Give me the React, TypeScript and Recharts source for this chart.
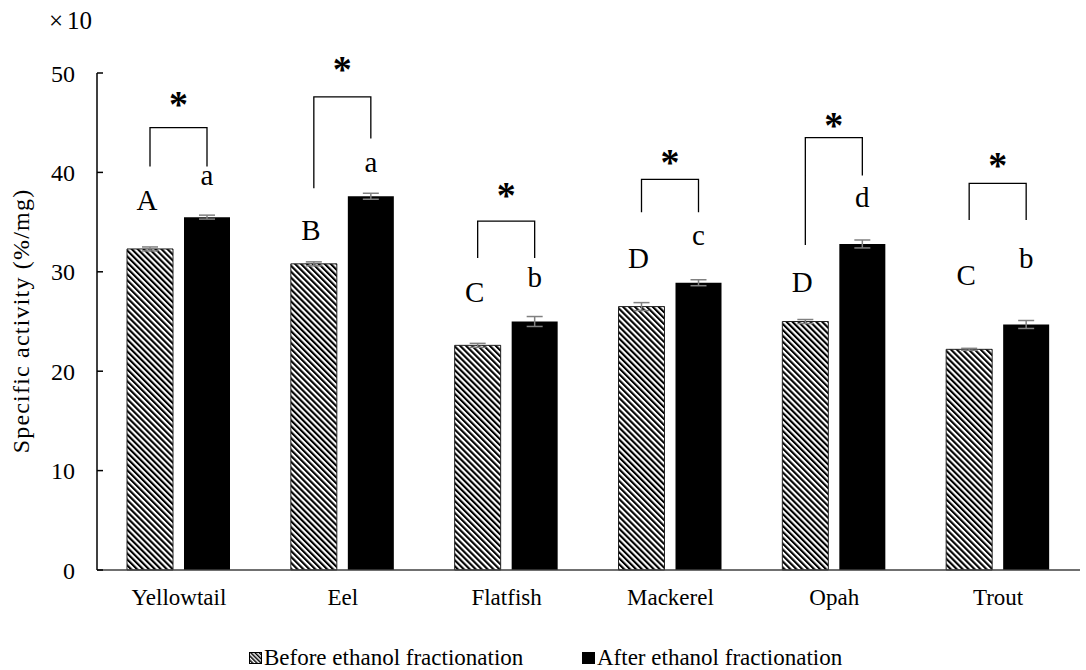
import { BarChart, Bar, XAxis, YAxis, ErrorBar, LabelList } from 'recharts'

// species on the x axis
const categories = ['Yellowtail', 'Eel', 'Flatfish', 'Mackerel', 'Opah', 'Trout']

// specific activity (×10 %/mg), mean and SD
const before = [32.3, 30.8, 22.6, 26.5, 25.0, 22.2]
const after = [35.5, 37.6, 25.0, 28.9, 32.8, 24.7]
const beforeErr = [0.2, 0.2, 0.2, 0.4, 0.2, 0.1]
const afterErr = [0.2, 0.3, 0.5, 0.3, 0.4, 0.4]

// significance groups
const beforeGroups = ['A', 'B', 'C', 'D', 'D', 'C']
const afterGroups = ['a', 'a', 'b', 'c', 'd', 'b']

// annotation levels in axis units
const upperLetterLevel = [36.2, 33.2, 27.0, 30.4, 28.0, 28.7]
const lowerLetterLevel = [38.7, 40.0, 28.5, 32.7, 36.5, 30.4]
const bracketTop = [44.5, 47.6, 35.1, 39.3, 43.5, 38.9]
const leftLegEnd = [40.6, 38.4, 31.4, 36.0, 32.7, 35.2]
const rightLegEnd = [40.6, 43.4, 31.4, 36.0, 39.7, 35.2]
const starLevel = [47.6, 51.1, 38.4, 41.8, 45.5, 41.4]

const yTicks = [0, 10, 20, 30, 40, 50]

const FONT = '"Liberation Serif", "Times New Roman", serif'
const BAR_SIZE = 46
const BAR_GAP = 11

const data = categories.map((name, i) => ({
  name,
  before: before[i],
  after: after[i],
  beforeErr: beforeErr[i],
  afterErr: afterErr[i],
}))

// pixel y for an axis value, derived from the bar's own geometry
const scaleFromBar = (vb: any, value: number) => {
  const base = vb.y + vb.height
  const k = vb.height / value
  return (v: number) => base - v * k
}

const YTick = ({ x, y, payload }: any) => (
  <g>
    <line x1={x + 22} x2={x + 28} y1={y} y2={y} stroke="#000" strokeWidth={1.5} />
    <text x={x} y={y} dy="0.36em" textAnchor="end" style={{ fontFamily: FONT, fontSize: 24 }} fill="#000">
      {payload.value}
    </text>
  </g>
)

const BeforeLetter = (props: any) => {
  const vb = props.viewBox || props
  const i = props.index
  const py = scaleFromBar(vb, before[i])
  return (
    <text x={vb.x + vb.width / 2 - 3} y={py(upperLetterLevel[i])} textAnchor="middle" style={{ fontFamily: FONT, fontSize: 29 }} fill="#000">
      {beforeGroups[i]}
    </text>
  )
}

const AfterAnnotation = (props: any) => {
  const vb = props.viewBox || props
  const i = props.index
  const py = scaleFromBar(vb, after[i])
  const xr = vb.x + vb.width / 2
  const xl = xr - vb.width - BAR_GAP
  const top = py(bracketTop[i])
  return (
    <g>
      <text x={xr} y={py(lowerLetterLevel[i])} textAnchor="middle" style={{ fontFamily: FONT, fontSize: 29 }} fill="#000">
        {afterGroups[i]}
      </text>
      <polyline
        points={`${xl},${py(leftLegEnd[i])} ${xl},${top} ${xr},${top} ${xr},${py(rightLegEnd[i])}`}
        fill="none"
        stroke="#000"
        strokeWidth={1.3}
      />
      <text x={(xl + xr) / 2} y={py(starLevel[i]) + 20} textAnchor="middle" style={{ fontFamily: FONT, fontSize: 38, fontWeight: 'bold' }} fill="#000">
        *
      </text>
    </g>
  )
}

const LegendSwatch = ({ hatched }: { hatched: boolean }) => (
  <svg width={13} height={12} style={{ marginRight: 2 }}>
    <defs>
      <pattern id="hatchSmall" patternUnits="userSpaceOnUse" width="3" height="3" patternTransform="rotate(-45)">
        <rect width="3" height="3" fill="#fff" />
        <rect width="1.5" height="3" fill="#000" />
      </pattern>
    </defs>
    <rect x={0.5} y={0.5} width={12} height={11} fill={hatched ? 'url(#hatchSmall)' : '#000'} stroke="#000" strokeWidth={1} />
  </svg>
)

const legendItem = {
  position: 'absolute' as const,
  top: 645,
  display: 'flex',
  alignItems: 'center',
  whiteSpace: 'nowrap' as const,
  lineHeight: '26px',
}

export default function App() {
  return (
    <div style={{ position: 'absolute', left: 0, top: 0, width: 1086, height: 670, background: '#fff', fontFamily: FONT, color: '#000', fontSize: 23 }}>
      <BarChart
        width={1086}
        height={670}
        data={data}
        margin={{ top: 73, right: 6, bottom: 0, left: 0 }}
        barSize={BAR_SIZE}
        barGap={BAR_GAP}
      >
        <defs>
          <pattern id="hatch" patternUnits="userSpaceOnUse" width="4.2" height="4.2" patternTransform="rotate(-45)">
            <rect width="4.2" height="4.2" fill="#fff" />
            <rect width="2.1" height="4.2" fill="#000" />
          </pattern>
        </defs>
        <text x={49} y={29} style={{ fontFamily: FONT, fontSize: 25 }} fill="#000">
          ×<tspan dx={4}>10</tspan>
        </text>
        <text
          x={0}
          y={0}
          transform="translate(29, 321) rotate(-90)"
          textAnchor="middle"
          style={{ fontFamily: FONT, fontSize: 24, letterSpacing: 1.2 }}
          fill="#000"
        >
          Specific activity (%/mg)
        </text>
        <XAxis
          dataKey="name"
          height={100}
          tickLine={false}
          tickSize={0}
          tickMargin={19}
          axisLine={{ stroke: '#404040', strokeWidth: 1.5 }}
          tick={{ fontFamily: FONT, fontSize: 23, fill: '#000' }}
        />
        <YAxis
          width={97}
          domain={[0, 50]}
          ticks={yTicks}
          interval={0}
          tickLine={false}
          tickSize={0}
          tickMargin={22}
          axisLine={{ stroke: '#000', strokeWidth: 1.5 }}
          tick={<YTick />}
        />
        <Bar dataKey="before" fill="url(#hatch)" stroke="#222" strokeWidth={1} isAnimationActive={false}>
          <ErrorBar dataKey="beforeErr" width={8} stroke="#808080" strokeWidth={1.5} direction="y" />
          <LabelList dataKey="before" content={BeforeLetter} />
        </Bar>
        <Bar dataKey="after" fill="#000" isAnimationActive={false}>
          <ErrorBar dataKey="afterErr" width={8} stroke="#808080" strokeWidth={1.5} direction="y" />
          <LabelList dataKey="after" content={AfterAnnotation} />
        </Bar>
      </BarChart>
      <div style={{ ...legendItem, left: 249 }}>
        <LegendSwatch hatched />
        <span>Before ethanol fractionation</span>
      </div>
      <div style={{ ...legendItem, left: 582 }}>
        <LegendSwatch hatched={false} />
        <span>After ethanol fractionation</span>
      </div>
    </div>
  )
}
